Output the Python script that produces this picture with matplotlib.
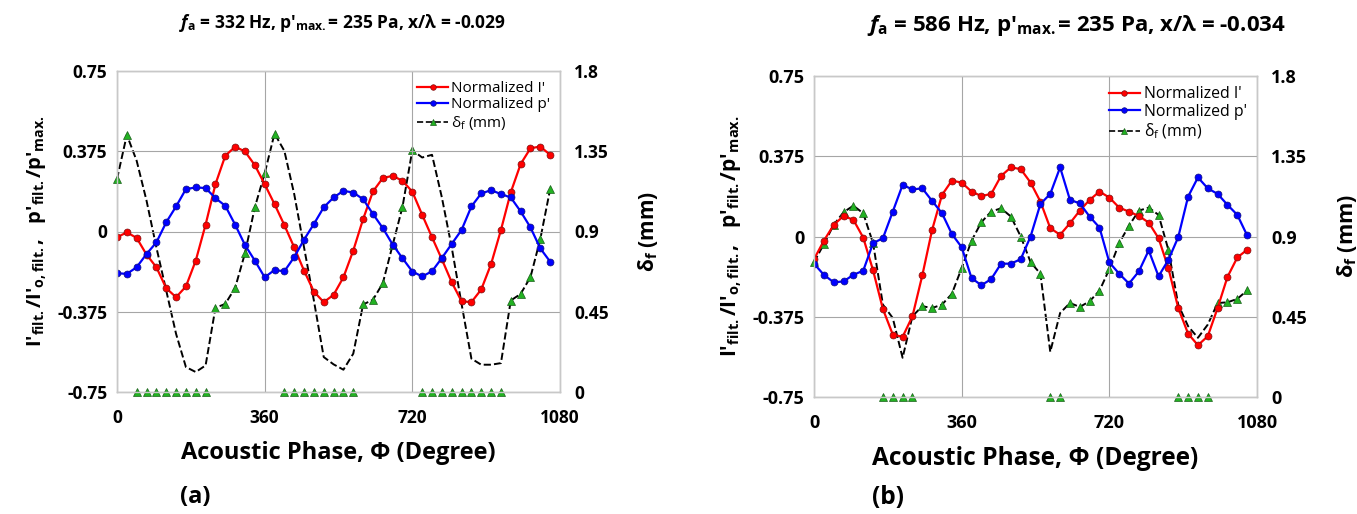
import matplotlib.pyplot as plt
from matplotlib.lines import Line2D
import numpy as np

plt.rcParams['font.family'] = ['Open Sans', 'DejaVu Sans']
plt.rcParams['mathtext.fontset'] = 'custom'
plt.rcParams['mathtext.rm'] = 'Open Sans'
plt.rcParams['mathtext.bf'] = 'Open Sans:bold'
plt.rcParams['mathtext.it'] = 'Open Sans:italic'
plt.rcParams['mathtext.bfit'] = 'Open Sans:italic:bold'
plt.rcParams['axes.unicode_minus'] = False

# fase acustica (grados), paso de 24
phase = np.arange(0, 1080, 24)

left_ticks = [-0.75, -0.375, 0, 0.375, 0.75]
left_labels = ['-0.75', '-0.375', '0', '0.375', '0.75']
right_ticks = [0, 0.45, 0.9, 1.35, 1.8]
right_labels = ['0', '0.45', '0.9', '1.35', '1.8']
x_ticks = [0, 360, 720, 1080]

# ----- panel (a): 332 Hz -----
I_a = [-0.027, -0.004, -0.030, -0.108, -0.167, -0.265, -0.307, -0.257, -0.136, 0.032,
       0.221, 0.354, 0.396, 0.374, 0.310, 0.221, 0.128, 0.030, -0.074, -0.183,
       -0.281, -0.330, -0.296, -0.214, -0.089, 0.058, 0.187, 0.250, 0.260, 0.237,
       0.186, 0.078, -0.027, -0.130, -0.237, -0.326, -0.330, -0.271, -0.152, 0.007,
       0.183, 0.315, 0.389, 0.397, 0.358]
p_a = [-0.195, -0.198, -0.167, -0.105, -0.051, 0.043, 0.117, 0.198, 0.206, 0.203,
       0.156, 0.120, 0.032, -0.063, -0.136, -0.214, -0.180, -0.186, -0.120, -0.038,
       0.035, 0.113, 0.159, 0.190, 0.182, 0.151, 0.082, 0.016, -0.061, -0.125,
       -0.187, -0.210, -0.186, -0.124, -0.058, 0.007, 0.117, 0.178, 0.193, 0.175,
       0.159, 0.094, 0.019, -0.079, -0.141]
d_line_a = [1.194, 1.442, 1.296, 1.073, 0.811, 0.569, 0.326, 0.140, 0.112, 0.149,
            0.472, 0.494, 0.584, 0.778, 1.035, 1.226, 1.449, 1.352, 1.110, 0.811,
            0.513, 0.196, 0.155, 0.125, 0.215, 0.491, 0.517, 0.610, 0.824, 1.038,
            1.356, 1.315, 1.330, 1.091, 0.811, 0.494, 0.187, 0.153, 0.153, 0.162,
            0.513, 0.550, 0.644, 0.858, 1.138]
d_mark_a = [1.194, 1.442, 0, 0, 0, 0, 0, 0, 0, 0,
            0.472, 0.494, 0.584, 0.778, 1.035, 1.226, 1.449, 0, 0, 0,
            0, 0, 0, 0, 0, 0.491, 0.517, 0.610, 0.824, 1.038,
            1.356, 0, 0, 0, 0, 0, 0, 0, 0, 0,
            0.513, 0.550, 0.644, 0.858, 1.138]

# ----- panel (b): 586 Hz -----
I_b = [-0.106, -0.020, 0.054, 0.096, 0.078, -0.005, -0.158, -0.339, -0.458, -0.469,
       -0.373, -0.182, 0.031, 0.194, 0.261, 0.252, 0.210, 0.189, 0.199, 0.283,
       0.323, 0.315, 0.252, 0.163, 0.039, 0.008, 0.062, 0.121, 0.171, 0.210,
       0.182, 0.135, 0.116, 0.096, 0.065, -0.008, -0.148, -0.334, -0.454, -0.508,
       -0.466, -0.334, -0.189, -0.098, -0.062]
p_b = [-0.127, -0.179, -0.214, -0.210, -0.179, -0.160, -0.031, -0.008, 0.116, 0.241,
       0.220, 0.225, 0.166, 0.109, 0.012, -0.050, -0.194, -0.228, -0.199, -0.127,
       -0.127, -0.106, 0.000, 0.152, 0.199, 0.323, 0.171, 0.155, 0.093, 0.042,
       -0.121, -0.174, -0.220, -0.163, -0.065, -0.186, -0.109, -0.003, 0.186, 0.276,
       0.225, 0.199, 0.148, 0.101, 0.005]
d_line_b = [0.756, 0.857, 0.965, 1.036, 1.073, 1.030, 0.863, 0.518, 0.443, 0.220,
            0.453, 0.509, 0.499, 0.518, 0.578, 0.723, 0.876, 0.980, 1.040, 1.058,
            1.012, 0.900, 0.756, 0.691, 0.253, 0.471, 0.527, 0.505, 0.537, 0.596,
            0.717, 0.863, 0.961, 1.045, 1.062, 1.021, 0.825, 0.518, 0.397, 0.332,
            0.406, 0.527, 0.531, 0.550, 0.598]
d_mark_b = [0.756, 0.857, 0.965, 1.036, 1.073, 1.030, 0.863, 0, 0, 0,
            0, 0.509, 0.499, 0.518, 0.578, 0.723, 0.876, 0.980, 1.040, 1.058,
            1.012, 0.900, 0.756, 0.691, 0, 0, 0.527, 0.505, 0.537, 0.596,
            0.717, 0.863, 0.961, 1.045, 1.062, 1.021, 0.825, 0, 0, 0,
            0, 0.527, 0.531, 0.550, 0.598]

titles = [r"$\mathbfit{f}_{\mathbf{a}}$ = 332 Hz, p'$_{\mathbf{max.}}$= 235 Pa, x/λ = -0.029",
          r"$\mathbfit{f}_{\mathbf{a}}$ = 586 Hz, p'$_{\mathbf{max.}}$= 235 Pa, x/λ = -0.034"]
panel_tags = ['(a)', '(b)']

GREEN = '#22b222'
grid_c = '#a6a6a6'
frame_c = '#c8c8c8'

fig = plt.figure(figsize=(13.57, 5.14), dpi=100)


def panel(rect, I, p, d_line, d_mark, title, tag, s, title_s, title_xy, tag_xy):
    ax = fig.add_axes(rect)
    ax2 = ax.twinx()
    ax.set_zorder(ax2.get_zorder() + 1)
    ax.patch.set_visible(False)

    ax2.plot(phase, d_line, color='black', ls='--', lw=1.4, zorder=2)
    ax2.plot(phase, d_mark, ls='none', marker='^', ms=5.5, mfc=GREEN,
             mec='#1a5e1a', mew=0.5, clip_on=False, zorder=3)
    ax.plot(phase, I, color='red', lw=1.6, marker='o', ms=5, mfc='red',
            mec='#7a1010', mew=0.5)
    ax.plot(phase, p, color='blue', lw=1.6, marker='o', ms=5, mfc='blue',
            mec='#10107a', mew=0.5)

    ax.set_xlim(0, 1080)
    ax.set_ylim(-0.75, 0.75)
    ax2.set_ylim(0, 1.8)
    ax.set_xticks(x_ticks)
    ax.set_xticklabels([str(t) for t in x_ticks], fontsize=12.5 * s, fontweight='bold')
    ax.set_yticks(left_ticks)
    ax.set_yticklabels(left_labels, fontsize=12.5 * s, fontweight='bold')
    ax2.set_yticks(right_ticks)
    ax2.set_yticklabels(right_labels, fontsize=12.5 * s, fontweight='bold')
    ax.tick_params(axis='x', length=0, pad=12)
    ax.tick_params(axis='y', length=0, pad=7)
    ax2.tick_params(length=0, pad=10)
    ax.grid(True, color=grid_c, lw=0.8)
    for a in (ax, ax2):
        for sp in a.spines.values():
            sp.set_color(frame_c)
            sp.set_linewidth(1.0)

    ax.set_xlabel('Acoustic Phase, Φ (Degree)', fontsize=17 * s, fontweight='bold', labelpad=10)
    ax.set_ylabel(r"I'$_{\mathbf{filt.}}$/I'$_{\mathbf{o,filt.}}$,   p'$_{\mathbf{filt.}}$/p'$_{\mathbf{max.}}$",
                  fontsize=14.5 * s, fontweight='bold', labelpad=6)
    ax2.set_ylabel(r"δ$_{\mathbf{f}}$ (mm)", fontsize=15 * s, fontweight='bold', labelpad=20)

    handles = [Line2D([], [], color='red', lw=1.6, marker='o', ms=4, mfc='red', mec='#7a1010', mew=0.5),
               Line2D([], [], color='blue', lw=1.6, marker='o', ms=4, mfc='blue', mec='#10107a', mew=0.5),
               Line2D([], [], color='black', ls='--', lw=1.2, marker='^', ms=4, mfc=GREEN, mec='#1a5e1a', mew=0.5)]
    ax.legend(handles, ["Normalized I'", "Normalized p'", r"δ$_{\mathrm{f}}$ (mm)"],
              loc='upper right', frameon=False, fontsize=11 * s, handlelength=2.0,
              handletextpad=0.2, labelspacing=0.1, borderaxespad=0.25)

    fig.text(title_xy[0], title_xy[1], title, ha='center', va='center',
             fontsize=title_s, fontweight='bold')
    fig.text(tag_xy[0], tag_xy[1], tag, ha='left', va='center',
             fontsize=17 * s, fontweight='bold')


panel([117 / 1357, 122 / 514, 443 / 1357, 321 / 514], I_a, p_a, d_line_a, d_mark_a,
      titles[0], panel_tags[0], 1.0, 12.5, (342 / 1357, 1 - 23 / 514), (180 / 1357, 1 - 497 / 514))
panel([814 / 1357, 117 / 514, 443 / 1357, 321 / 514], I_b, p_b, d_line_b, d_mark_b,
      titles[1], panel_tags[1], 1.04, 16, (1076 / 1357, 1 - 25 / 514), (872 / 1357, 1 - 497 / 514))

fig.savefig('out.png', dpi=100)
